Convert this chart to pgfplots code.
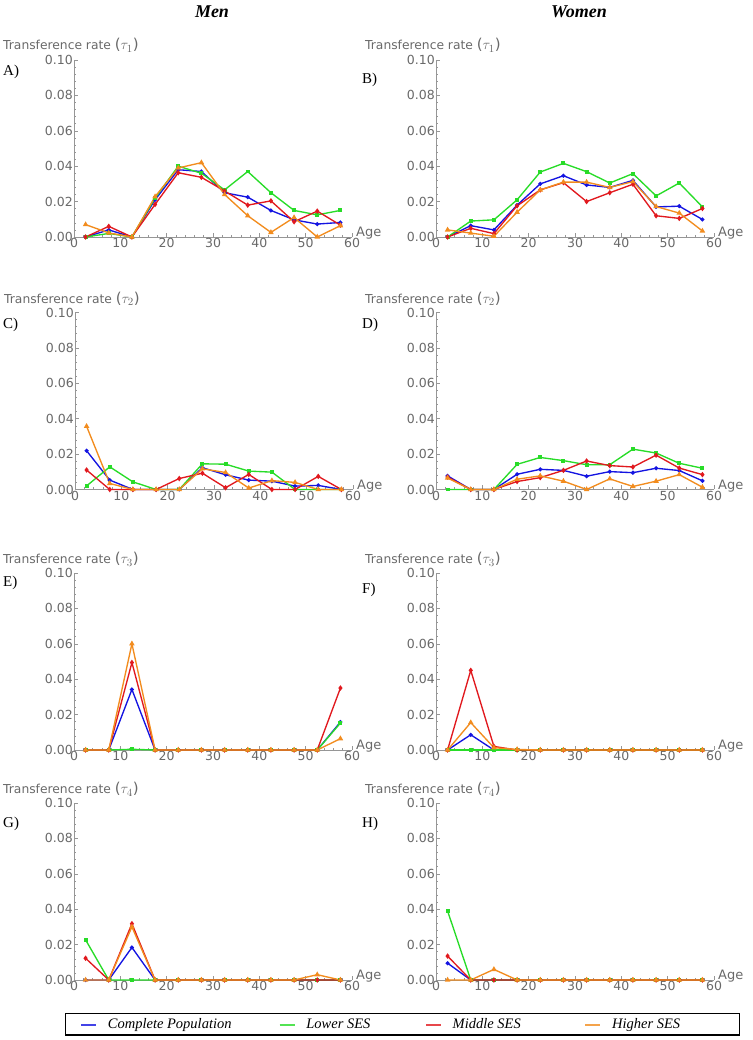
\documentclass[border=0pt]{standalone}
\usepackage{fontspec}
\setmainfont{Liberation Serif}
\newfontfamily\tickfont{DejaVu Sans}
\usepackage{pgfplots}
\usepackage{pgfplotstable}
\pgfplotsset{compat=1.18}

\definecolor{cblue}{RGB}{20,20,225}
\definecolor{cgreen}{RGB}{40,220,40}
\definecolor{cred}{RGB}{225,25,30}
\definecolor{corange}{RGB}{242,140,30}
\definecolor{axgray}{RGB}{150,150,150}
\definecolor{txtgray}{RGB}{105,105,105}

% columns: age, blue (complete), green (lower), red (middle), orange (higher)
\pgfplotstableread{
age b g r o
2.5  0      0      0      0.007
7.5  0.004  0.002  0.006  0.0023
12.5 0      0      0      0
17.5 0.021  0.022  0.0184 0.0228
22.5 0.038  0.040  0.0363 0.039
27.5 0.037  0.036  0.0337 0.042
32.5 0.025  0.0266 0.026  0.024
37.5 0.0225 0.037  0.018  0.012
42.5 0.015  0.025  0.0204 0.0026
47.5 0.0097 0.015  0.0086 0.011
52.5 0.0073 0.0125 0.0146 0
57.5 0.0082 0.015  0.0067 0.0064
}\tA
\pgfplotstableread{
age b g r o
2.5  0      0      0      0.004
7.5  0.0064 0.009  0.0049 0.0022
12.5 0.004  0.0097 0.0019 0.0004
17.5 0.018  0.021  0.0176 0.014
22.5 0.030  0.0367 0.0266 0.0266
27.5 0.0346 0.0416 0.0307 0.031
32.5 0.0294 0.0369 0.020  0.031
37.5 0.028  0.0305 0.025  0.028
42.5 0.032  0.0358 0.0298 0.0313
47.5 0.017  0.0232 0.012  0.0172
52.5 0.0174 0.0305 0.0105 0.0135
57.5 0.0099 0.017  0.0161 0.0034
}\tB
\pgfplotstableread{
age b g r o
2.5  0.0219 0.002  0.011  0.0357
7.5  0.0053 0.0128 0      0.0034
12.5 0      0.0043 0      0
17.5 0      0      0      0
22.5 0      0      0.0062 0
27.5 0.0123 0.0145 0.0092 0.0117
32.5 0.0083 0.0143 0.001  0.0096
37.5 0.0053 0.0104 0.0085 0.0008
42.5 0.0047 0.0098 0      0.005
47.5 0.0019 0      0      0.004
52.5 0.0023 0      0.0074 0
57.5 0      0      0      0
}\tC
\pgfplotstableread{
age b g r o
2.5  0.0077 0      0.007  0.0065
7.5  0      0      0      0
12.5 0      0      0      0
17.5 0.0086 0.0142 0.0045 0.0058
22.5 0.0114 0.0181 0.0067 0.0077
27.5 0.0108 0.0163 0.0108 0.0047
32.5 0.0075 0.014  0.0161 0
37.5 0.0101 0.014  0.0135 0.006
42.5 0.0095 0.0228 0.0127 0.0017
47.5 0.012  0.0206 0.0194 0.0047
52.5 0.0107 0.0148 0.0121 0.0084
57.5 0.0049 0.012  0.0084 0.0013
}\tD
\pgfplotstableread{
age b g r o
2.5  0      0      0      0
7.5  0      0      0      0
12.5 0.0342 0.0004 0.0494 0.060
17.5 0      0      0      0
22.5 0      0      0      0
27.5 0      0      0      0
32.5 0      0      0      0
37.5 0      0      0      0
42.5 0      0      0      0
47.5 0      0      0      0
52.5 0      0      0      0
57.5 0.0158 0.0152 0.035  0.0064
}\tE
\pgfplotstableread{
age b g r o
2.5  0      0      0      0
7.5  0.0086 0      0.045  0.0155
12.5 0      0      0.002  0.0013
17.5 0      0      0      0.0003
22.5 0      0      0      0
27.5 0      0      0      0
32.5 0      0      0      0
37.5 0      0      0      0
42.5 0      0      0      0
47.5 0      0      0      0
52.5 0      0      0      0
57.5 0      0      0      0
}\tF
\pgfplotstableread{
age b g r o
2.5  0      0.0227 0.0123 0
7.5  0      0      0      0
12.5 0.0184 0      0.0318 0.030
17.5 0      0      0      0
22.5 0      0      0      0
27.5 0      0      0      0
32.5 0      0      0      0
37.5 0      0      0      0
42.5 0      0      0      0
47.5 0      0      0      0
52.5 0      0      0      0.003
57.5 0      0      0      0
}\tG
\pgfplotstableread{
age b g r o
2.5  0.0095 0.039  0.0135 0
7.5  0      0      0      0
12.5 0      0      0      0.006
17.5 0      0      0      0
22.5 0      0      0      0
27.5 0      0      0      0
32.5 0      0      0      0
37.5 0      0      0      0
42.5 0      0      0      0
47.5 0      0      0      0
52.5 0      0      0      0
57.5 0      0      0      0
}\tH

\pgfplotsset{
  panel/.style={
    scale only axis, width=278pt, height=177pt,
    xmin=0, xmax=60, ymin=0, ymax=0.1,
    axis lines*=left,
    axis line style={axgray, line width=0.6pt},
    tick style={axgray, line width=0.5pt},
    tick align=inside,
    major tick length=4pt, minor tick length=2pt,
    xtick={0,10,...,60}, ytick={0,0.02,0.04,0.06,0.08,0.1},
    minor x tick num=4, minor y tick num=4,
    /pgf/number format/assume math mode=true,
    tick label style={font=\tickfont\fontsize{12.5}{12.5}\selectfont, text=txtgray},
    y tick label style={/pgf/number format/fixed, /pgf/number format/fixed zerofill,
      /pgf/number format/precision=2, inner sep=1pt},
    x tick label style={inner sep=1.5pt},
    clip=false,
  },
  sb/.style={color=cblue, draw=cblue, line width=1.35pt, mark=*, mark size=1.3pt},
  sg/.style={color=cgreen, draw=cgreen, line width=1.35pt, mark=square*, mark size=1.3pt},
  sr/.style={color=cred, draw=cred, line width=1.35pt, mark=diamond*, mark size=1.7pt},
  so/.style={color=corange, draw=corange, line width=1.35pt, mark=triangle*, mark size=1.9pt},
}

\newcommand{\series}[1]{%
  \addplot[sb] table[x=age,y=b] {#1};
  \addplot[sg] table[x=age,y=g] {#1};
  \addplot[sr] table[x=age,y=r] {#1};
  \addplot[so] table[x=age,y=o] {#1};
  \node[anchor=base west, font=\tickfont\fontsize{13}{13}\selectfont, text=txtgray, inner sep=0pt]
    at (axis cs:60,0) [xshift=4pt] {Age};
}
\newcommand{\ylab}[3]{% x of axis left, y (tikz) of axis top, index
  \node[anchor=base west, inner sep=0pt, font=\tickfont\fontsize{12.3}{14}\selectfont, text=txtgray]
    at (#1-71, #2+9) {Transference rate {\fontsize{15}{15}\selectfont($\tau_{#3}$)}};
}
\newcommand{\plab}[3]{%
  \node[anchor=west, inner sep=0pt, font=\fontsize{15}{15}\selectfont] at (#1,1040-#2) {#3};
}

\begin{document}
\begin{tikzpicture}[x=1pt,y=1pt]
\useasboundingbox (0,0) rectangle (752,1040);

% Titles
\node[font=\bfseries\itshape\fontsize{18}{18}\selectfont] at (212,1028) {Men};
\node[font=\bfseries\itshape\fontsize{18}{18}\selectfont] at (579,1028) {Women};

% Row 1
\begin{axis}[panel, at={(74pt,803pt)}, anchor=south west]
\series{\tA}
\end{axis}
\begin{axis}[panel, at={(436pt,803pt)}, anchor=south west]
\series{\tB}
\end{axis}
% Row 2
\begin{axis}[panel, at={(75pt,550.5pt)}, anchor=south west]
\series{\tC}
\end{axis}
\begin{axis}[panel, at={(436pt,550.5pt)}, anchor=south west]
\series{\tD}
\end{axis}
% Row 3
\begin{axis}[panel, at={(74pt,290pt)}, anchor=south west]
\series{\tE}
\end{axis}
\begin{axis}[panel, at={(436pt,290pt)}, anchor=south west]
\series{\tF}
\end{axis}
% Row 4
\begin{axis}[panel, at={(74pt,60pt)}, anchor=south west,
  legend columns=4,
  legend style={at={(-0.0324,-0.186)}, anchor=north west, draw=black, line width=1.1pt,
    inner xsep=15pt, inner ysep=5pt,
    font=\itshape\fontsize{14.5}{16}\selectfont,
    nodes={inner sep=0pt, anchor=base west},
    /tikz/every even column/.style={column sep=0pt},
    /tikz/every odd column/.style={column sep=0pt}},
  legend image code/.code={\draw[#1, line width=1.4pt, draw opacity=0.8] (0pt,0.35em) -- (15pt,0.35em);},
]
\series{\tG}
\legend{\hspace*{11pt}\makebox[171pt][l]{Complete Population},
        \hspace*{11pt}\makebox[119pt][l]{Lower SES},
        \hspace*{11pt}\makebox[132pt][l]{Middle SES},
        \hspace*{11pt}\makebox[112pt][l]{Higher SES}}
\end{axis}
\begin{axis}[panel, at={(436pt,60pt)}, anchor=south west]
\series{\tH}
\end{axis}

% y-axis titles
\ylab{74}{981}{1}
\ylab{436}{981}{1}
\ylab{75}{727.5}{2}
\ylab{436}{727.5}{2}
\ylab{74}{467}{3}
\ylab{436}{467}{3}
\ylab{74}{237}{4}
\ylab{436}{237}{4}

% panel letters
\plab{3}{72}{A)}
\plab{362}{80}{B)}
\plab{3}{325}{C)}
\plab{362}{325}{D)}
\plab{3}{583}{E)}
\plab{362}{590}{F)}
\plab{3}{824}{G)}
\plab{362}{824}{H)}
\end{tikzpicture}
\end{document}
